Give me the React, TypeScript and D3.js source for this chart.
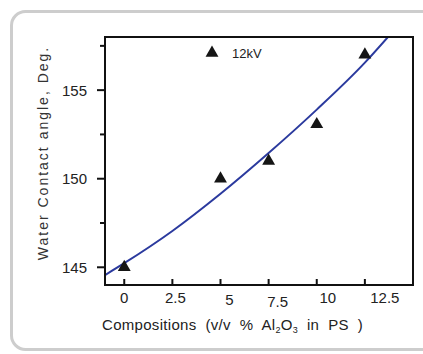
import { useMemo } from 'react';
import * as d3 from 'd3';

// measured points (12kV)
const pointX = [0, 5, 7.5, 10, 12.5];
const pointY = [145, 150, 151, 153.07, 157];

// fitted curve
const fitX = [-1, 0, 2.5, 5, 7.5, 10, 12.5, 13.7];
const fitY = [144.56, 145.23, 147.05, 149.15, 151.45, 153.9, 156.55, 158.0];

const xTicks = [0, 2.5, 5, 7.5, 10, 12.5];
const xTickLabels = ['0', '2.5', '5', '7.5', '10', '12.5'];
const yMajor = [145, 150, 155];
const yMinor = [147.5, 152.5, 157.5];
const legendLabel = '12kV';

const W = 423;
const H = 354;
const FONT = '"Liberation Sans", Arial, Helvetica, sans-serif';

// the original figure's x labels drift to the right a bit
const labelNudge = [
  { dx: 0, dy: 0 },
  { dx: 3, dy: 0 },
  { dx: 9, dy: 2 },
  { dx: 9, dy: 4 },
  { dx: 11, dy: 0 },
  { dx: 20, dy: 0 },
];

const App = () => {
  const plot = { left: 105, top: 37, right: 413, bottom: 285 };

  const x = useMemo(() => d3.scaleLinear().domain([-1, 15]).range([plot.left, plot.right]), []);
  const y = useMemo(() => d3.scaleLinear().domain([144, 158]).range([plot.bottom, plot.top]), []);

  const fitData = fitX.map((v, i) => [v, fitY[i]] as [number, number]);
  const linePath = d3
    .line<[number, number]>()
    .x(d => x(d[0]))
    .y(d => y(d[1]))
    .curve(d3.curveMonotoneX)(fitData) || '';

  const tri = d3.symbol().type(d3.symbolTriangle).size(72)() || '';

  return (
    <svg
      width={W}
      height={H}
      viewBox={`0 0 ${W} ${H}`}
      style={{ position: 'fixed', left: 0, top: 0, background: '#fff', fontFamily: FONT }}
    >
      <defs>
        <clipPath id="plot-clip">
          <rect x={plot.left} y={plot.top} width={plot.right - plot.left} height={plot.bottom - plot.top} />
        </clipPath>
      </defs>

      {/* outer rounded panel */}
      <rect x={11.5} y={11.5} width={440} height={338} rx={14} fill="#fff" stroke="#cdcdcd" strokeWidth={3} />

      {/* fitted line */}
      <path d={linePath} fill="none" stroke="#2b3a9e" strokeWidth={2} clipPath="url(#plot-clip)" />

      {/* data triangles */}
      {pointX.map((v, i) => (
        <path key={i} d={tri} transform={`translate(${x(v)},${y(pointY[i])})`} fill="#151515" />
      ))}

      {/* frame */}
      <rect
        x={plot.left}
        y={plot.top}
        width={plot.right - plot.left}
        height={plot.bottom - plot.top}
        fill="none"
        stroke="#111"
        strokeWidth={2}
      />

      {/* y axis ticks */}
      {yMajor.map(v => (
        <g key={v}>
          <line x1={plot.left - 8} x2={plot.left} y1={y(v)} y2={y(v)} stroke="#111" strokeWidth={2} />
          <text x={87} y={y(v) + 5.5} textAnchor="end" fontSize={15} fill="#222">
            {v}
          </text>
        </g>
      ))}
      {yMinor.map(v => (
        <line key={v} x1={plot.left - 5} x2={plot.left} y1={y(v)} y2={y(v)} stroke="#111" strokeWidth={2} />
      ))}

      {/* x axis ticks (inward) */}
      {xTicks.map((v, i) => (
        <g key={v}>
          <line x1={x(v)} x2={x(v)} y1={plot.bottom} y2={plot.bottom - 6} stroke="#111" strokeWidth={2} />
          <text
            x={x(v) + labelNudge[i].dx}
            y={303 + labelNudge[i].dy}
            textAnchor="middle"
            fontSize={15}
            fill="#222"
          >
            {xTickLabels[i]}
          </text>
        </g>
      ))}

      {/* legend */}
      <path d={tri} transform="translate(212,53)" fill="#151515" />
      <text x={232} y={57.5} fontSize={13} fill="#222">
        {legendLabel}
      </text>

      {/* axis titles */}
      <text
        transform="translate(47.5,153) rotate(-90)"
        textAnchor="middle"
        fontSize={14}
        letterSpacing={2}
        fill="#333"
      >
        Water Contact angle, Deg.
      </text>
      <text x={102} y={330} fontSize={15} letterSpacing={0.3} fill="#222" xmlSpace="preserve">
        <tspan>Compositions  (v/v  %  Al</tspan>
        <tspan fontSize={9} dy={3}>2</tspan>
        <tspan dy={-3}>O</tspan>
        <tspan fontSize={9} dy={3}>3</tspan>
        <tspan dy={-3}>  in  PS  )</tspan>
      </text>
    </svg>
  );
};

export default App;
